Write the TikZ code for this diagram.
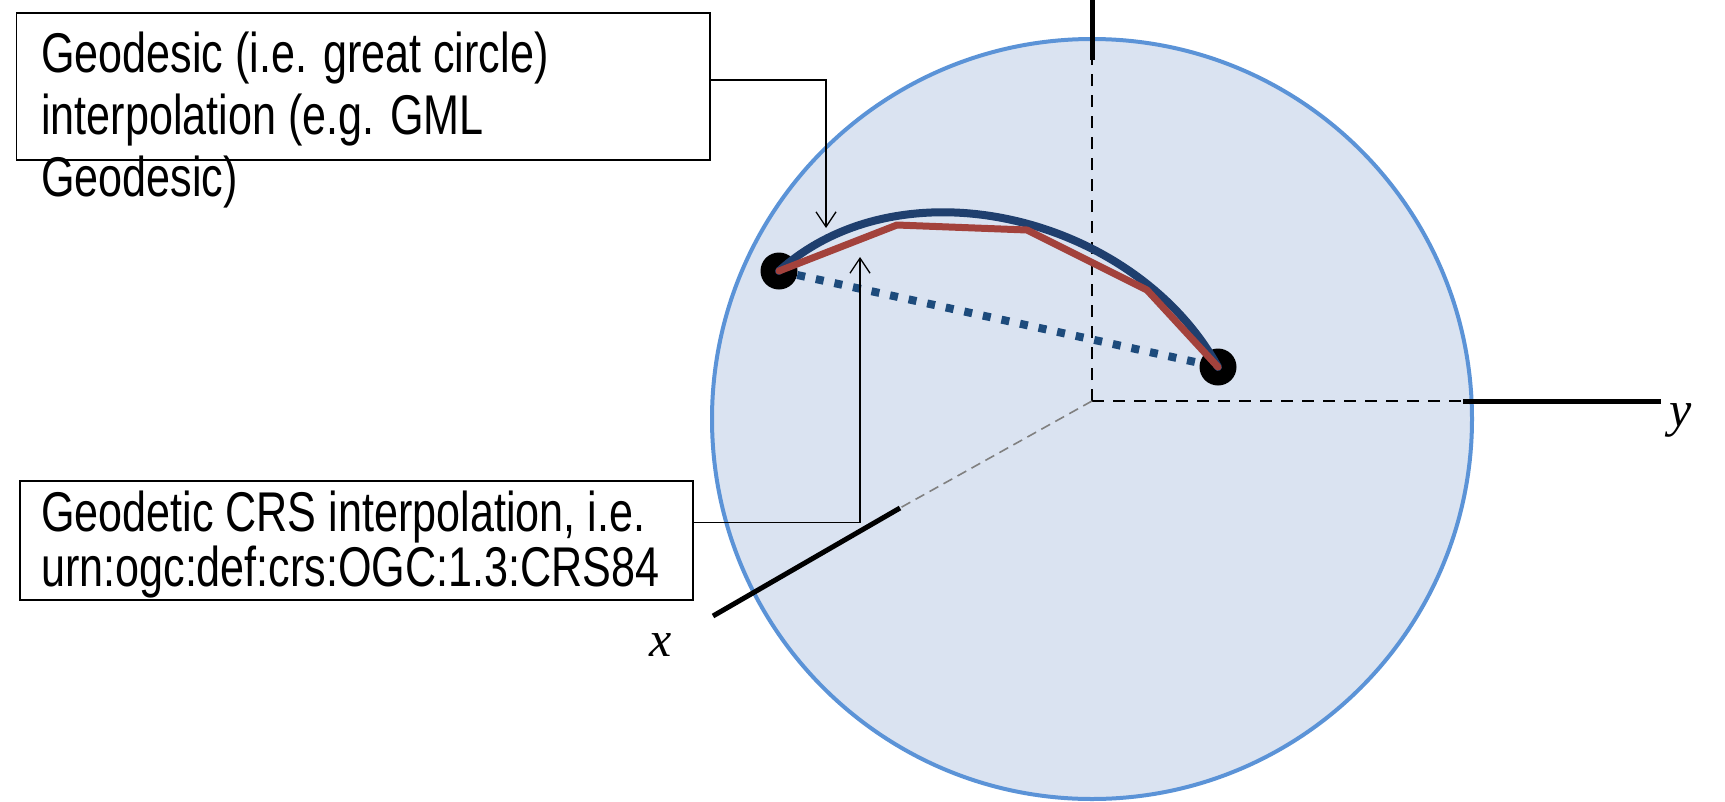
\documentclass[tikz,border=0pt]{standalone}
\usepackage{fontspec}
\setmainfont{Liberation Sans}[FakeStretch=0.77]
\newfontfamily\axisfont{Liberation Serif}
\usepackage{tikz}
\usetikzlibrary{arrows.meta,positioning,calc}
\definecolor{sphere}{HTML}{DAE3F1}
\definecolor{rim}{HTML}{5B93D7}
\definecolor{navy}{HTML}{1F3F6E}
\definecolor{chordblue}{HTML}{1D4B7C}
\definecolor{rust}{HTML}{A3423C}

\begin{document}
\begin{tikzpicture}[x=1pt,y=-1pt,
  frame/.style={draw,line width=1.6pt,fill=white,inner sep=0pt},
  note/.style={inner sep=0pt,anchor=north west,align=left,
               font=\fontsize{56}{62}\selectfont},
  conn/.style={-{Straight Barb[length=15pt,width=20pt,line width=1.3pt]},line width=1.3pt},
  pt/.style={circle,fill=black,inner sep=0pt,minimum size=37pt},
  solidaxis/.style={line width=5pt},
  dashaxis/.style={line width=2.5pt,dash pattern=on 12pt off 9pt},
  lbl/.style={inner sep=0pt,font=\axisfont\itshape\fontsize{50}{50}\selectfont},
  chord/.style={chordblue,line width=8pt,dash pattern=on 8pt off 11pt},
  geo/.style={navy,line width=8pt,line cap=round},
  crs/.style={rust,line width=7pt,line join=round,line cap=round}
]
\useasboundingbox (0,0) rectangle (1725,801);

% globe and axes
\fill[sphere] (1092,419) circle[radius=380pt];
\draw[rim,line width=4pt] (1092,419) circle[radius=380pt];

\coordinate (O) at (1092,401);
\coordinate (zcut) at (1092,60);
\coordinate (zend) at (1092,0);
\coordinate (ycut) at (1463,401);
\coordinate (yend) at (1661,401);
\coordinate (xcut) at (900,508);
\coordinate (xend) at (713,616);

\draw[dashaxis] (O) -- (zcut);
\draw[solidaxis] (zcut) -- (zend);
\draw[dashaxis] (O) -- (ycut);
\draw[solidaxis] (ycut) -- (yend);
\draw[gray,line width=1.6pt,dash pattern=on 10pt off 6pt] (O) -- (xcut);
\draw[solidaxis] (xcut) -- (xend);

\node[lbl] (ylab) at (1681,420) {y};
\node[lbl] (xlab) at (661,645) {x};

% the two positions and the paths between them
\node[pt] (p1) at (779,271) {};
\node[pt] (p2) at (1218,367) {};

\draw[chord] (p1) -- (p2);
\draw[geo] (p1.center) .. controls (904,158.5) and (1135.5,217) .. (p2.center);
\draw[crs] (p1.center) -- (897,225) -- (1027,230) -- (1147,290) -- (p2.center);

% callouts
\node[frame,minimum width=693.5pt,minimum height=147pt] (gcbox) at (363.25,86.5) {};
\node[note] (gctext) at (41,32) {Geodesic (i.e. great circle)\\interpolation (e.g. GML\\Geodesic)};
\node[frame,minimum width=673pt,minimum height=119pt] (crsbox) at (356.5,540.5) {};
\node[note,font=\fontsize{56}{55}\selectfont] (crstext) at (41,491)
  {Geodetic CRS interpolation, i.e.\\urn:ogc:def:crs:OGC:1.3:CRS84};

\coordinate (gctip) at (826,228);
\coordinate (crstip) at (860,257);
\draw[conn] ([yshift=6.5pt]gcbox.east) -| (gctip);
\draw[conn] ([yshift=18pt]crsbox.east) -| (crstip);
\end{tikzpicture}
\end{document}
